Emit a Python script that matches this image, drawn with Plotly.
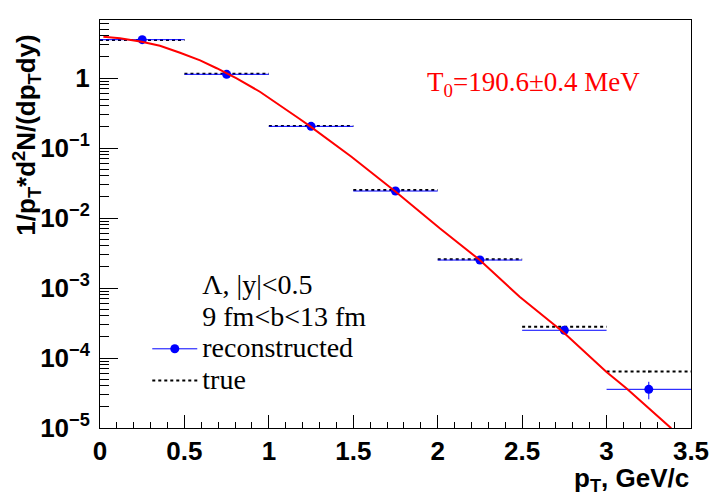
import plotly.graph_objects as go

# pT bins (GeV/c) and spectra
pt = [0.25, 0.75, 1.25, 1.75, 2.25, 2.75, 3.25]
half_bin = [0.25, 0.25, 0.25, 0.25, 0.25, 0.25, 0.25]
reco = [3.53, 1.13, 0.204, 0.0243, 0.00251, 2.49e-4, 3.57e-5]
reco_err = [0.04, 0.012, 0.002, 0.0003, 0.00006, 1.2e-5, 1.0e-5]
true = [3.49, 1.15, 0.206, 0.0251, 0.00257, 2.8e-4, 6.4e-5]
true_err = [0.01, 0.004, 0.0007, 0.0001, 0.00001, 1.5e-6, 2.5e-6]

# fit curve, sampled along the red line
fit_pt = [0.020, 0.118, 0.247, 0.355, 0.474, 0.593, 0.691, 0.809, 0.947,
          1.065, 1.183, 1.247, 1.489, 1.751, 2.012, 2.249, 2.485, 2.741,
          2.998, 3.117, 3.383]
fit_y = [3.90, 3.69, 3.30, 2.89, 2.30, 1.79, 1.38, 0.99, 0.637,
         0.411, 0.260, 0.202, 0.0751, 0.0238, 0.00713, 0.00251, 7.5e-4, 2.38e-4,
         6.37e-5, 3.69e-5, 9.9e-6]

y_decades = [1e-5, 1e-4, 1e-3, 1e-2, 1e-1, 1]
y_ticktext = ["<b>10<sup>\u22125</sup></b>", "<b>10<sup>\u22124</sup></b>",
              "<b>10<sup>\u22123</sup></b>", "<b>10<sup>\u22122</sup></b>",
              "<b>10<sup>\u22121</sup></b>", "<b>1</b>"]
x_ticks = [0, 0.5, 1, 1.5, 2, 2.5, 3, 3.5]

SANS = "Liberation Sans, Arial"
SERIF = "Liberation Serif, Times New Roman"
LEG = '<span style="font-size:28px">%s</span>'

minor_y = [k * d for d in y_decades for k in range(2, 10) if k * d < 7]

# true spectrum as dotted horizontal segments over each bin
seg_x, seg_y = [], []
for c, h, v in zip(pt, half_bin, true):
    seg_x += [c - h, c + h, None]
    seg_y += [v, v, None]

fig = go.Figure()

# header lines of the legend (no symbol)
for label in ["\u039b, |y|<0.5", "9 fm<b<13 fm"]:
    fig.add_trace(go.Scatter(x=[None], y=[None], mode='lines',
                             line=dict(width=0, color='white'),
                             name=LEG % label))

fig.add_trace(go.Scatter(x=[None], y=[None], mode='lines+markers',
                         line=dict(color='blue', width=1),
                         marker=dict(color='blue', size=9),
                         name=LEG % "reconstructed"))

fig.add_trace(go.Scatter(x=seg_x, y=seg_y, mode='lines',
                         line=dict(color='black', width=2, dash='dot'),
                         name=LEG % "true"))
fig.add_trace(go.Scatter(x=pt, y=true, mode='markers',
                         marker=dict(size=1, color='black'),
                         error_y=dict(type='data', array=true_err, color='black',
                                      thickness=1, width=0),
                         showlegend=False))

fig.add_trace(go.Scatter(x=pt, y=reco, mode='markers',
                         marker=dict(color='blue', size=9),
                         error_x=dict(type='data', array=half_bin, color='blue',
                                      thickness=1, width=0),
                         error_y=dict(type='data', array=reco_err, color='blue',
                                      thickness=1, width=0),
                         showlegend=False))

fig.add_trace(go.Scatter(x=fit_pt, y=fit_y, mode='lines',
                         line=dict(color='red', width=2),
                         showlegend=False))

fig.update_xaxes(range=[0, 3.5], tickvals=x_ticks,
                 ticktext=["<b>%g</b>" % t for t in x_ticks],
                 ticks='inside', ticklen=13, tickcolor='black',
                 minor=dict(dtick=0.1, ticks='inside', ticklen=6, tickcolor='black'),
                 showline=True, linecolor='black', linewidth=1, mirror=True,
                 showgrid=False, zeroline=False, ticklabelstandoff=0,
                 tickfont=dict(family=SANS, size=26, color='black'))
fig.update_yaxes(type='log', range=[-5, 0.829], tickvals=y_decades,
                 ticktext=y_ticktext,
                 ticks='inside', ticklen=18, tickcolor='black',
                 minor=dict(tickmode='array', tickvals=minor_y, ticks='inside',
                            ticklen=9, tickcolor='black'),
                 showline=True, linecolor='black', linewidth=1, mirror=True,
                 showgrid=False, zeroline=False, ticklabelstandoff=4,
                 tickfont=dict(family=SANS, size=26, color='black'))

# the page body adds 8px on top/left, so margins are shifted to compensate
fig.update_layout(
    width=720, height=500,
    margin=dict(l=92, r=37, t=12, b=80),
    paper_bgcolor='white', plot_bgcolor='white',
    legend=dict(x=0.08, y=0.40, xanchor='left', yanchor='top',
                itemwidth=45, bgcolor='rgba(0,0,0,0)',
                font=dict(family=SERIF, size=22, color='black')),
    annotations=[
        dict(text="<b>p<sub>T</sub>, GeV/c</b>", xref='paper', yref='paper',
             x=1, y=-0.125, xanchor='right', yanchor='middle', showarrow=False,
             font=dict(family=SANS, size=26, color='black')),
        dict(text="<b>1/p<sub>T</sub>*d<sup>2</sup>N/(dp<sub>T</sub>dy)</b>",
             xref='paper', yref='paper', x=-0.125, y=0.968, textangle=-90,
             xanchor='center', yanchor='top', showarrow=False,
             font=dict(family=SANS, size=26, color='black')),
        dict(text="T<sub>0</sub>=190.6\u00b10.4 MeV", xref='paper', yref='paper',
             x=0.733, y=0.843, xanchor='center', yanchor='middle', showarrow=False,
             font=dict(family=SERIF, size=27, color='red')),
    ],
)

fig.write_html("out.html")
